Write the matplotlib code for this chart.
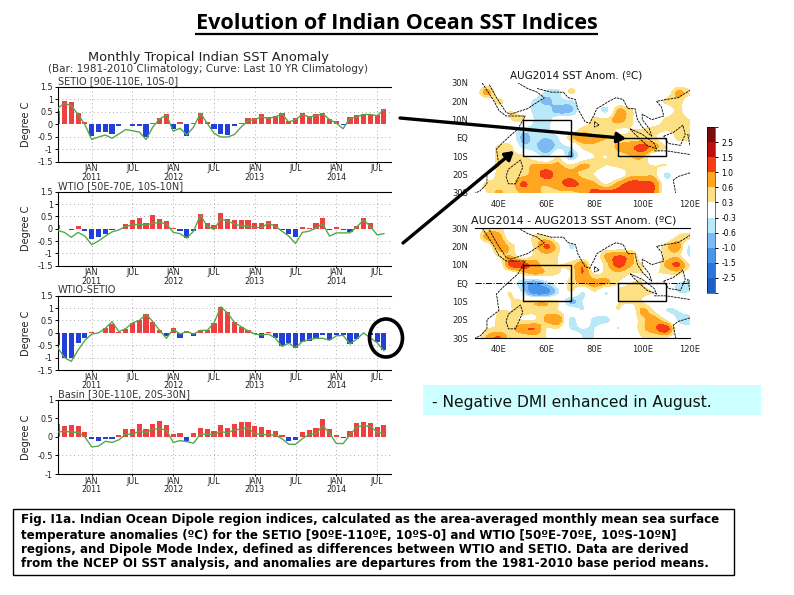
import numpy as np
import matplotlib
matplotlib.use("Agg")
import matplotlib.pyplot as plt
from matplotlib.colors import ListedColormap, BoundaryNorm
from matplotlib.colorbar import ColorbarBase
from matplotlib.patches import Rectangle, Ellipse

W, H = 794, 595

page_title = "Evolution of Indian Ocean SST Indices"
chart_title = "Monthly Tropical Indian SST Anomaly"
chart_subtitle = "(Bar: 1981-2010 Climatology; Curve: Last 10 YR Climatology)"
note_text = "- Negative DMI enhanced in August."
caption_lines = [
    "Fig. I1a. Indian Ocean Dipole region indices, calculated as the area-averaged monthly mean sea surface",
    "temperature anomalies (ºC) for the SETIO [90ºE-110ºE, 10ºS-0] and WTIO [50ºE-70ºE, 10ºS-10ºN]",
    "regions, and Dipole Mode Index, defined as differences between WTIO and SETIO. Data are derived",
    "from the NCEP OI SST analysis, and anomalies are departures from the 1981-2010 base period means.",
]

month_pos = [5, 11, 17, 23, 29, 35, 41, 47]
month_labels = ["JAN\n2011", "JUL", "JAN\n2012", "JUL", "JAN\n2013", "JUL", "JAN\n2014", "JUL"]

setio_bar = [.55,.95,.9,.45,.1,-.45,-.3,-.3,-.4,-.05,0,-.07,-.07,-.5,.07,.27,.4,-.2,.1,-.45,.07,.47,.1,-.2,-.4,-.42,-.07,.05,.27,.27,.4,.3,.35,.47,.13,.27,.47,.32,.4,.47,.23,.12,-.03,.3,.38,.43,.43,.38,.62]
setio_line = [.65,.85,.75,.4,0,-.6,-.5,-.42,-.55,-.38,-.2,-.25,-.3,-.6,-.1,.22,.38,-.27,-.15,-.42,-.1,.45,.05,-.35,-.5,-.5,-.4,-.1,.15,.2,.3,.25,.3,.42,.1,.2,.4,.3,.35,.42,.2,.05,-.17,.25,.3,.4,.4,.35,.6]
wtio_bar = [.15,0,-.07,.1,-.1,-.42,-.35,-.2,-.05,-.03,.2,.35,.42,.22,.55,.4,.32,.02,-.1,-.38,-.1,.6,.22,.15,.62,.4,.35,.35,.35,.22,.22,.3,.2,-.05,-.22,-.35,.07,.03,.22,.43,-.07,.07,-.07,-.15,.1,.42,.22,-.03,-.03]
wtio_line = [-.07,-.15,-.35,-.15,-.3,-.65,-.5,-.3,-.13,-.05,.1,.15,.18,.15,.22,.25,.2,-.15,-.2,-.38,-.1,.55,.1,-.03,.4,.3,.2,.1,.1,.05,.05,.22,.1,-.1,-.3,-.6,-.15,-.1,.02,.2,-.3,-.17,-.17,-.17,.07,.35,.1,-.25,-.2]
dmi_bar = [-.5,-1,-1,-.4,-.22,.03,.01,.2,.35,.03,.17,.4,.5,.78,.45,.13,-.12,.2,-.22,.07,-.13,.13,.13,.4,1.05,.85,.42,.25,.1,-.03,-.2,.02,-.2,-.55,-.4,-.6,-.37,-.33,-.2,-.1,-.3,-.1,-.07,-.45,-.25,0,-.1,-.35,-.7]
dmi_line = [-.6,-1,-1.15,-.7,-.3,-.05,0,.18,.45,.05,.17,.4,.5,.75,.45,.1,-.22,.15,-.05,.05,-.05,.1,.1,.4,1.05,.8,.42,.25,.08,-.05,-.08,-.05,-.2,-.55,-.42,-.6,-.35,-.27,-.22,-.22,-.3,-.12,-.1,-.45,-.25,0,-.2,-.4,-.72]
basin_bar = [.35,.3,.32,.3,.13,-.07,-.1,-.05,-.07,.05,.2,.2,.35,.22,.35,.42,.32,.07,.1,-.12,.1,.25,.2,.15,.32,.25,.35,.4,.4,.28,.27,.18,.15,.04,-.1,-.08,.13,.18,.25,.48,.22,.05,-.03,.15,.37,.4,.37,.27,.32]
basin_line = [.13,.15,.13,.12,0,-.27,-.25,-.12,-.15,-.08,.07,.07,.15,.12,.2,.22,.18,-.15,-.1,-.13,-.17,.08,.07,.05,.15,.1,.2,.2,.25,.08,.07,.05,.05,-.05,-.2,-.2,-.05,.07,.08,.3,.1,-.18,-.18,.05,.27,.3,.28,.13,.08]

panel_names = ["SETIO [90E-110E, 10S-0]", "WTIO [50E-70E, 10S-10N]", "WTIO-SETIO", "Basin [30E-110E, 20S-30N]"]
panel_bars = [setio_bar, wtio_bar, dmi_bar, basin_bar]
panel_lines = [setio_line, wtio_line, dmi_line, basin_line]
panel_ticks = [[-1.5,-1,-.5,0,.5,1,1.5]]*3 + [[-1,-.5,0,.5,1]]
panel_ticklabels = [["-1.5","-1","-0.5","0","0.5","1","1.5"]]*3 + [["-1","-0.5","0","0.5","1"]]
panel_grid = [[-1,-.5,.5,1]]*3 + [[-.5]]
panel_boxes = [(87,162), (191.7,265.7), (295.7,370), (399.7,474)]
panel_limits = [1.5,1.5,1.5,1]

map_lons = np.arange(30, 121, 5)
map_lats = np.arange(30, -31, -5)
aug2014 = np.array([
 [0,0,0,0,0,0,0,0,0,0,0,0,0,0,0,0,0,0,0],
 [0,.8,0,0,0,0,-.4,-.4,.4,0,0,0,0,0,0,0,0,.7,.4],
 [0,0,.4,0,0,-.4,-.7,-.4,-.4,0,0,0,0,0,0,0,.4,.5,0],
 [0,0,0,.3,0,-.4,-.4,-.8,-.7,0,0,-.4,.7,.4,0,0,0,.4,0],
 [0,0,0,.3,.4,-.35,-.5,0,0,0,.4,.4,.8,.4,0,0,.4,.5,.3],
 [0,0,0,0,-.4,-.4,-.4,0,0,.4,.4,.4,.3,.3,.3,.4,.4,.4,.3],
 [0,0,0,0,-.7,-.5,-.6,-.3,.5,.8,.7,.6,.4,.4,.4,.4,0,.4,.4],
 [0,0,.4,.4,-.4,-.5,-.9,-.4,-.3,.4,.5,.4,.7,.9,1.2,.8,.3,0,0],
 [0,0,.4,.4,.4,0,-.35,.3,-.7,0,.3,.3,.4,.6,.7,0,0,0,0],
 [0,0,.4,.4,.4,.7,.7,.7,.4,.7,.5,.3,.4,.5,.4,.3,.3,0,0],
 [0,0,.4,.4,.5,.8,1.2,.8,.8,.5,.3,0,0,.5,.5,.5,-.4,0,0],
 [0,.4,.4,.4,1.1,.7,.7,.9,1.2,.9,.7,.3,.8,1.2,1.2,1.0,0,0,0],
 [0,.3,.7,.4,.7,.8,.4,.5,.5,.7,1.2,1.2,1.2,1.2,1.2,1.0,0,0,0],
])
aug_diff = np.array([
 [0,.4,.4,0,0,0,0,0,0,0,0,0,0,0,0,0,0,0,0],
 [0,.8,.8,0,0,.4,.4,0,0,0,0,0,0,0,0,0,0,.4,.5],
 [0,0,.8,.5,0,.4,1.1,.4,-.35,0,0,0,0,0,0,0,.5,.8,-.4],
 [0,0,.4,.6,0,.4,.5,.3,0,0,0,.7,1.0,.8,0,0,.4,.5,-.4],
 [0,0,0,1.2,1.2,.8,.4,.3,.4,.9,0,.5,1.2,.7,.3,0,.7,1.1,.3],
 [0,0,0,0,.4,.7,.5,.3,.3,1.0,.3,.4,.5,.3,.3,.3,.3,.4,0],
 [0,0,0,0,-.6,-1.0,-.5,0,.4,.7,.8,.7,.3,.3,.3,0,0,-.3,-.4],
 [0,0,0,.3,-.4,-1.3,-1.2,-.35,.3,-.3,.3,-.3,.3,.4,.4,.3,0,-.3,-.3],
 [0,0,0,.3,.4,.5,.5,.3,-.7,-.3,0,0,.3,.4,.3,0,0,0,0],
 [0,0,.3,.3,.4,.4,.5,.3,0,-.3,0,0,.3,0,.7,.3,-.3,-.3,0],
 [0,0,.4,.4,.3,.3,.7,.9,-.4,0,-.4,-.4,0,0,.5,.8,.3,-.35,-.6],
 [0,.3,.4,.5,.9,1.0,.3,.3,-.3,-.3,-.3,0,-.3,0,.5,.9,1.3,0,0],
 [0,.7,1.1,.4,.3,.4,.3,0,0,-.3,-.3,0,.3,0,.3,.3,.3,0,0],
])
map_titles = ["AUG2014 SST Anom. (ºC)", "AUG2014 - AUG2013 SST Anom. (ºC)"]
map_lat_ticks = [30,20,10,0,-10,-20,-30]
map_lat_labels = ["30N","20N","10N","EQ","10S","20S","30S"]
map_lon_ticks = [40,60,80,100,120]
map_lon_labels = ["40E","60E","80E","100E","120E"]

levels = [-4,-2.5,-1.5,-1,-.6,-.3,.3,.6,1,1.5,2.5,4]
level_labels = ["-2.5","-1.5","-1.0","-0.6","-0.3","0.3","0.6","1.0","1.5","2.5"]
level_colors = ["#1f5fc4","#2b74dc","#4a94ea","#7db9f2","#b9e8f9","#ffffff","#fde083","#ffa51f","#f53c12","#bb1010","#7a0d0d"]

coast_lines = [
 [(33,30),(35,26),(38,20),(40,15),(43,12),(51,12),(48,5),(42,-2),(39,-6),(40,-15),(35,-20),(35,-25),(32,-29),(30,-30)],
 [(36,29),(39,22),(43,14),(45,13),(52,16),(59,22),(56,25),(52,27),(48,30)],
 [(56,27),(62,25),(67,25),(69,22),(72,21),(73,16),(76,9),(78,8),(80,13),(81,16),(86,20),(89,22),(92,21),(94,16),(97,16),(98,10),(100,6),(103,2),(104,1),(103,5),(100,10),(100,13),(104,10),(109,12),(108,17),(106,20),(110,21),(115,22),(120,26)],
 [(95,5),(100,2),(105,-3),(106,-6),(102,-4),(97,2),(95,5)],
 [(105,-7),(110,-7),(115,-8),(120,-9)],
 [(109,1),(113,3),(117,7),(118,2),(116,-4),(111,-3),(109,1)],
 [(44,-17),(49,-12),(50,-16),(47,-25),(44,-25),(43,-21),(44,-17)],
 [(80,9),(82,7),(80,6),(80,9)],
 [(120,-19),(115,-21),(113,-23),(114,-30)],
 [(120,-4),(119,2),(120,1)],
]
region_boxes = [(50,70,-10,10), (90,110,-10,0)]

cbar_cmap = ListedColormap(level_colors)
cbar_norm = BoundaryNorm(levels, cbar_cmap.N)


def rect(x0, y0, x1, y1):
    return [x0 / W, 1 - y1 / H, (x1 - x0) / W, (y1 - y0) / H]


fig = plt.figure(figsize=(W / 100, H / 100), dpi=100, facecolor="white")

bar_font = dict(family="DejaVu Sans", color="#222222")
for i, (top, bottom) in enumerate(panel_boxes):
    ax = fig.add_axes(rect(57.7, top, 390.7, bottom))
    vals = np.array(panel_bars[i])
    xs = np.arange(len(vals))
    ax.bar(xs, vals, width=0.76, color=np.where(vals >= 0, "#ee4040", "#2040d8"), zorder=2)
    ax.plot(xs, panel_lines[i], color="#55a84a", lw=1.0, zorder=3)
    ax.set_xlim(0, 49)
    lim = panel_limits[i]
    ax.set_ylim(-lim, lim)
    ax.set_yticks(panel_ticks[i])
    ax.set_yticklabels(panel_ticklabels[i], fontsize=5.8, **bar_font)
    ax.set_xticks(month_pos)
    ax.set_xticklabels(month_labels, fontsize=5.8, linespacing=0.95, **bar_font)
    ax.tick_params(axis="y", length=2, width=0.7, pad=1.5)
    ax.tick_params(axis="x", length=1.5, width=0.7, pad=0.3)
    ax.spines["right"].set_visible(False)
    for s in ("left", "top", "bottom"):
        ax.spines[s].set_linewidth(0.8)
    for g in panel_grid[i]:
        ax.axhline(g, color="#aaaaaa", lw=0.7, ls=(0, (1, 3)), zorder=1)
    for m in month_pos:
        ax.axvline(m, color="#aaaaaa", lw=0.7, ls=(0, (1, 3)), zorder=1)
    ax.patch.set_visible(False)


def draw_map(box, data, title, frame, title_size, title_x):
    ax = fig.add_axes(rect(*box))
    ax.imshow(data, extent=[27.5, 122.5, -32.5, 32.5], origin="upper", aspect="auto",
              interpolation="catrom", interpolation_stage="data",
              cmap=cbar_cmap, norm=cbar_norm, zorder=1)
    for seg in coast_lines:
        lo, la = zip(*seg)
        ax.plot(lo, la, color="black", lw=0.6, ls=(0, (3, 1)), zorder=3)
    for lo0, lo1, la0, la1 in region_boxes:
        ax.add_patch(Rectangle((lo0, la0), lo1 - lo0, la1 - la0, fill=False, ec="black", lw=1.0, zorder=4))
    ax.set_xlim(30, 120)
    ax.set_ylim(-30, 30)
    ax.set_xticks(map_lon_ticks)
    ax.set_xticklabels(map_lon_labels, fontsize=6, **bar_font)
    ax.set_yticks(map_lat_ticks)
    ax.set_yticklabels(map_lat_labels, fontsize=6, **bar_font)
    ax.tick_params(axis="both", length=0, pad=5)
    for s in ax.spines.values():
        s.set_visible(False)
    if frame:
        ax.spines["top"].set_visible(True)
        ax.spines["bottom"].set_visible(True)
        ax.axhline(0, color="black", lw=0.7, ls="-.", zorder=4)
    ax.set_title(title, fontsize=title_size, pad=3, color="#111111", x=title_x)
    ax.patch.set_visible(False)


draw_map((475, 83, 690, 193), aug2014, map_titles[0], False, 7.5, 0.47)
draw_map((475, 228, 690, 338), aug_diff, map_titles[1], True, 8.0, 0.46)

cax = fig.add_axes(rect(707, 127, 715, 293))
cb = ColorbarBase(cax, cmap=cbar_cmap, norm=cbar_norm, spacing="uniform", boundaries=levels, ticks=levels[1:-1])
cb.set_ticklabels(level_labels)
cb.ax.tick_params(labelsize=5.5, length=2.5, width=0.7, pad=2)
cb.outline.set_linewidth(0.4)
cb.dividers.set_visible(False)

ov = fig.add_axes([0, 0, 1, 1], zorder=20)
ov.set_xlim(0, W)
ov.set_ylim(H, 0)
ov.axis("off")
ov.patch.set_visible(False)

ov.text(396.5, 29, page_title, ha="center", va="baseline", fontsize=15.6, family="Open Sans", weight="bold", color="black")
ov.plot([195, 598], [34, 34], color="black", lw=1.6, solid_capstyle="butt")

ov.text(208, 58, chart_title, ha="center", va="center", fontsize=9.4, color="#222222")
ov.text(208, 69, chart_subtitle, ha="center", va="center", fontsize=7.5, color="#333333")
for name, (top, _) in zip(panel_names, panel_boxes):
    ov.text(58, top - 0.5, name, ha="left", va="bottom", fontsize=7.0, color="#333333")
for (top, bottom) in panel_boxes:
    ov.text(26, (top + bottom) / 2, "Degree C", rotation=90, ha="center", va="center", fontsize=7.0, color="#222222")

for start, end in [((400, 118), (626, 138.5)), ((403, 243), (514, 151))]:
    ov.annotate("", xy=end, xytext=start, arrowprops=dict(arrowstyle="-|>,head_width=0.3,head_length=0.5",
                lw=2.4, color="black", shrinkA=0, shrinkB=0))

ov.add_patch(Ellipse((386, 338), 33, 38, fill=False, ec="black", lw=2.6))

ov.add_patch(Rectangle((423, 385), 338, 30, fc="#ccffff", ec="none"))
ov.text(432, 402, note_text, ha="left", va="center", fontsize=11.2, color="#111111")

ov.add_patch(Rectangle((13, 509), 721, 66, fc="white", ec="black", lw=1.0))
for line, y in zip(caption_lines, [520, 535, 550, 564]):
    ov.text(21, y, line, ha="left", va="center", fontsize=8.6, weight="bold", color="black")

fig.savefig("out.png", dpi=100, facecolor="white")
